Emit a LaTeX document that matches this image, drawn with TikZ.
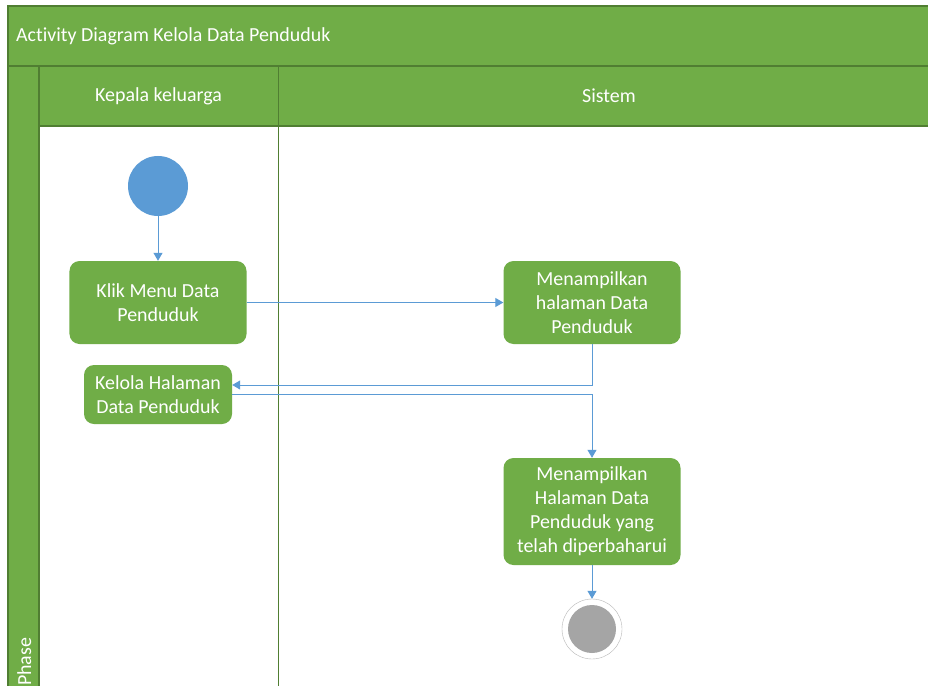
\documentclass[tikz,border=0pt]{standalone}
\usepackage{fontspec}
\setmainfont{Carlito}[Ligatures=NoCommon]
\usetikzlibrary{arrows.meta}

\definecolor{lanegreen}{HTML}{70AD47}
\definecolor{linegreen}{HTML}{507E32}
\definecolor{flowblue}{HTML}{5B9BD5}
\definecolor{endgray}{HTML}{A5A5A5}

\tikzset{
    activity/.style = {rectangle, rounded corners=10bp, fill=lanegreen, text=white,
                       align=center, inner sep=0pt},
    lanetext/.style = {text=white, inner sep=0pt},
    flow/.style     = {draw, color=flowblue, line width=1bp, -{Triangle[length=8bp,width=9bp]}},
}

\begin{document}
\begin{tikzpicture}[x=1bp, y=-1bp, node distance=116.5bp,
                    font=\fontsize{20}{24}\selectfont]
    \useasboundingbox (0,0) rectangle (928,686);
    \clip (0,0) rectangle (928,686);
    \fill [white] (0,0) rectangle (928,686);

    % pool and lanes
    \fill [lanegreen] (8,6) rectangle (940,126);
    \fill [lanegreen] (8,126) rectangle (39,690);
    \draw [linegreen, line width=1.5bp] (8,690) -- (8,6) -- (940,6)
          (8,66) -- (940,66)
          (39,126) -- (940,126)
          (39,66) -- (39,690);
    \draw [linegreen, line width=1bp] (278,66) -- (278,690);

    \node (title) [lanetext, anchor=west] at (16,36) {Activity Diagram Kelola Data Penduduk};
    \node (kepala) [lanetext] at (158.5,96) {Kepala keluarga};
    \node (sistem) [lanetext] at (609,96) {Sistem};
    \node (phase) [lanetext, rotate=90, anchor=base west] at (31,686) {Phase};

    % activities
    \node (start) [circle, fill=flowblue, minimum size=60bp] at (158,186) {};
    \node (klik) [below of=start, activity, minimum width=177bp, minimum height=83bp]
          {Klik Menu Data\\Penduduk};
    \node (tampil) [right of=klik, node distance=434bp, activity,
                    minimum width=177bp, minimum height=83bp]
          {Menampilkan\\halaman Data\\Penduduk};
    \node (kelola) [below of=klik, node distance=92bp, activity,
                    minimum width=148bp, minimum height=59bp]
          {Kelola Halaman\\Data Penduduk};
    \node (perbarui) [below of=tampil, node distance=209bp, activity,
                      minimum width=177bp, minimum height=107bp]
          {Menampilkan\\Halaman Data\\Penduduk yang\\telah diperbaharui};
    \node (finish) [below of=perbarui, node distance=117.5bp, circle, draw=endgray!80,
                    fill=white, minimum size=60bp,
                    path picture={\fill [endgray] (path picture bounding box.center) circle (24bp);}] {};

    \path [flow] (start) edge (klik)
                 (klik) edge (tampil)
                 (perbarui) edge (finish);
    \draw [flow] (tampil.south) |- ([yshift=9.5bp]kelola.east);
    \draw [flow] (kelola.east) -| (perbarui.north);
\end{tikzpicture}
\end{document}
